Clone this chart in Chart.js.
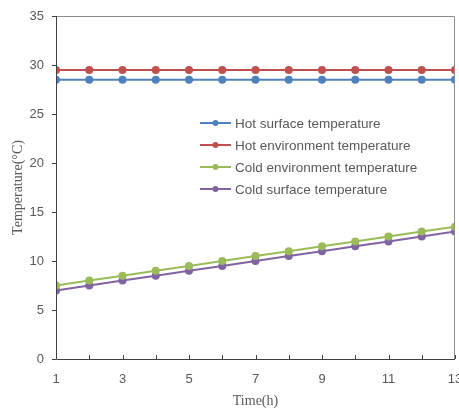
<!DOCTYPE html>
<html>
<head>
<meta charset="utf-8">
<script src="https://cdn.jsdelivr.net/npm/chart.js@4/dist/chart.umd.min.js"></script>
<style>
  html, body { margin: 0; padding: 0; background: #fff; }
  #wrap { width: 459px; height: 410px; }
</style>
</head>
<body>
<div id="wrap"><canvas id="myChart" width="459" height="410"></canvas></div>
<script>
// hours 1..13
var hours = [1, 2, 3, 4, 5, 6, 7, 8, 9, 10, 11, 12, 13];
var hotSurface = [28.5, 28.5, 28.5, 28.5, 28.5, 28.5, 28.5, 28.5, 28.5, 28.5, 28.5, 28.5, 28.5];
var hotEnv = [29.5, 29.5, 29.5, 29.5, 29.5, 29.5, 29.5, 29.5, 29.5, 29.5, 29.5, 29.5, 29.5];
var coldEnv = [7.5, 8, 8.5, 9, 9.5, 10, 10.5, 11, 11.5, 12, 12.5, 13, 13.5];
var coldSurface = [7, 7.5, 8, 8.5, 9, 9.5, 10, 10.5, 11, 11.5, 12, 12.5, 13];
var seriesNames = ['Hot surface temperature', 'Hot environment temperature', 'Cold environment temperature', 'Cold surface temperature'];
var seriesColors = ['#4f81bd', '#c0504d', '#9bbb59', '#8064a2'];
var xTicks = [1, 3, 5, 7, 9, 11, 13];
var yTicks = [0, 5, 10, 15, 20, 25, 30, 35];

function pts(vals) {
  return vals.map(function (v, i) { return { x: hours[i], y: v }; });
}

var allSeries = [hotSurface, hotEnv, coldEnv, coldSurface];
var datasets = allSeries.map(function (vals, i) {
  return {
    label: seriesNames[i],
    data: pts(vals),
    borderColor: seriesColors[i],
    backgroundColor: seriesColors[i],
    borderWidth: 2,
    pointRadius: 4,
    pointHoverRadius: 4,
    pointBorderWidth: 0
  };
});

// frame + inward x ticks + legend inside plot
var decor = {
  id: 'decor',
  afterDraw: function (chart) {
    var c = chart.ctx, a = chart.chartArea;
    var xs = chart.scales.x;
    c.save();
    c.strokeStyle = '#8c8c8c';
    c.lineWidth = 1;
    c.beginPath();
    c.moveTo(a.left, a.top + 0.5); c.lineTo(a.right - 0.5, a.top + 0.5); c.lineTo(a.right - 0.5, a.bottom);
    c.stroke();
    c.strokeStyle = '#404040';
    c.beginPath();
    c.moveTo(a.left + 0.5, a.top); c.lineTo(a.left + 0.5, a.bottom + 0.5); c.lineTo(a.right, a.bottom + 0.5);
    c.stroke();
    c.beginPath();
    hours.forEach(function (h) {
      var px = Math.round(xs.getPixelForValue(h)) + 0.5;
      c.moveTo(px, a.bottom); c.lineTo(px, a.bottom - 4);
    });
    c.stroke();
    // legend
    var lx = 200, ly = 123, gap = 21.9;
    c.font = '13.5px "Liberation Sans", sans-serif';
    c.textBaseline = 'middle';
    chart.data.datasets.forEach(function (ds, i) {
      var y = Math.round(ly + i * gap);
      c.strokeStyle = ds.borderColor;
      c.lineWidth = 2;
      c.beginPath(); c.moveTo(lx, y); c.lineTo(lx + 31, y); c.stroke();
      c.fillStyle = ds.borderColor;
      c.beginPath(); c.arc(lx + 15.5, y, 3, 0, Math.PI * 2); c.fill();
      c.fillStyle = '#595959';
      c.fillText(ds.label, lx + 35, y + 1);
    });
    c.restore();
  }
};

var ctx = document.getElementById('myChart');
var chart = new Chart(ctx, {
  type: 'line',
  data: { datasets: datasets },
  options: {
    responsive: false,
    animation: false,
    layout: { padding: { top: 16, right: 4, left: 0, bottom: 0 } },
    plugins: { legend: { display: false }, tooltip: { enabled: false } },
    scales: {
      x: {
        type: 'linear',
        min: 1, max: 13,
        grid: { display: false },
        border: { display: false },
        afterBuildTicks: function (s) { s.ticks = xTicks.map(function (v) { return { value: v }; }); },
        afterFit: function (s) { s.height = 51; s.paddingLeft = 0; s.paddingRight = 0; },
        ticks: { color: '#595959', font: { family: '"Liberation Sans", sans-serif', size: 13 }, padding: 5, maxRotation: 0, autoSkip: false },
        title: { display: true, text: 'Time(h)', color: '#595959', font: { family: '"Liberation Serif", serif', size: 14 }, padding: { top: 8, bottom: 0 } }
      },
      y: {
        min: 0, max: 35,
        grid: { display: true, drawOnChartArea: false, drawTicks: true, tickLength: 4, color: '#404040' },
        border: { display: false },
        afterBuildTicks: function (s) { s.ticks = yTicks.map(function (v) { return { value: v }; }); },
        afterFit: function (s) { s.width = 56; },
        ticks: { color: '#595959', font: { family: '"Liberation Sans", sans-serif', size: 13 }, padding: 8 },
        title: { display: true, text: 'Temperature(°C)', color: '#595959', font: { family: '"Liberation Serif", serif', size: 14 }, padding: { top: 10, bottom: 2 } }
      }
    }
  },
  plugins: [decor]
});
</script>
</body>
</html>
